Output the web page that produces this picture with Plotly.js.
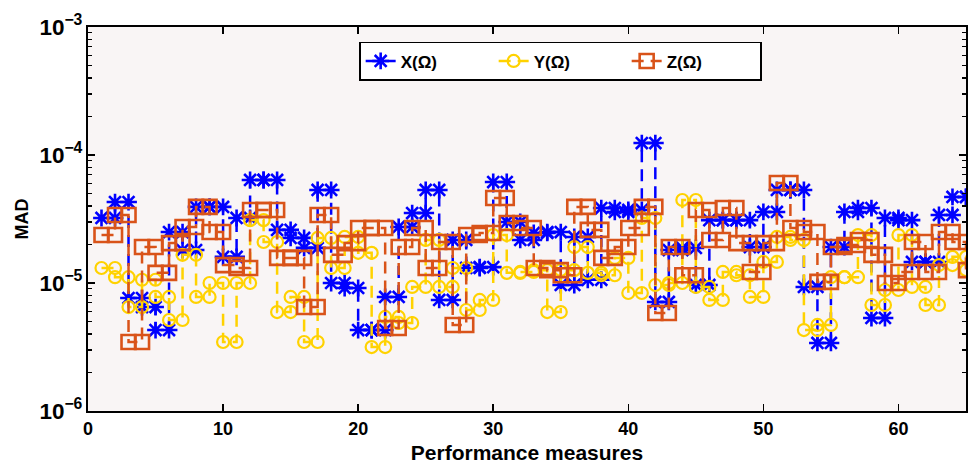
<!DOCTYPE html>
<html>
<head>
<meta charset="utf-8">
<script src="https://cdn.plot.ly/plotly-3.0.1.min.js"></script>
<style>
  html, body { margin: 0; padding: 0; background: #ffffff; }
  #chart { width: 968px; height: 468px; }
</style>
</head>
<body>
<div id="chart"></div>
<script>
// Performance measure index (1..65)
const measures = Array.from({length: 65}, (_, i) => i + 1);

// Mean absolute deviation per measure, X component
const madX = [
  3.22e-5, 4.29e-5, 7.63e-6, 6.49e-6, 4.29e-6, 2.50e-5, 1.81e-5, 3.93e-5, 3.93e-5, 1.60e-5,
  3.22e-5, 6.38e-5, 6.38e-5, 2.60e-5, 2.25e-5, 1.88e-5, 5.33e-5, 1.00e-5, 9.14e-6, 4.29e-6,
  4.29e-6, 7.78e-6, 2.74e-5, 3.52e-5, 5.33e-5, 7.37e-6, 2.17e-5, 1.31e-5, 1.33e-5, 6.15e-5,
  3.00e-5, 2.17e-5, 2.46e-5, 2.50e-5, 9.65e-6, 2.29e-5, 1.06e-5, 3.85e-5, 3.59e-5, 3.72e-5,
  1.24e-4, 7.11e-6, 1.81e-5, 1.88e-5, 9.65e-6, 3.10e-5, 3.10e-5, 3.10e-5, 1.91e-5, 3.59e-5,
  5.33e-5, 5.33e-5, 9.31e-6, 3.40e-6, 1.91e-5, 3.59e-5, 3.85e-5, 5.33e-6, 3.22e-5, 3.10e-5,
  1.46e-5, 1.46e-5, 3.40e-5, 4.70e-5, 4.70e-5
];

// Y component
const madY = [
  1.31e-5, 1.11e-5, 6.49e-6, 1.06e-5, 7.78e-6, 5.14e-6, 1.66e-5, 7.78e-6, 1.00e-5, 3.46e-6,
  1.00e-5, 3.10e-5, 2.09e-5, 5.93e-6, 7.78e-6, 3.46e-6, 2.25e-5, 1.31e-5, 2.29e-5, 1.72e-5,
  3.16e-6, 5.43e-6, 4.87e-6, 9.31e-6, 2.17e-5, 9.31e-6, 1.31e-5, 6.15e-6, 7.37e-6, 2.37e-5,
  1.20e-5, 1.22e-5, 1.26e-5, 5.93e-6, 1.26e-5, 1.91e-5, 1.20e-5, 1.15e-5, 1.57e-5, 8.35e-6,
  3.22e-5, 9.65e-6, 1.00e-5, 4.45e-5, 9.31e-6, 7.37e-6, 1.22e-5, 1.15e-5, 7.78e-6, 1.46e-5,
  2.29e-5, 2.17e-5, 4.29e-6, 4.70e-6, 1.11e-5, 1.11e-5, 2.37e-5, 6.73e-6, 8.82e-6, 2.37e-5,
  9.31e-6, 6.73e-6, 1.38e-5, 1.60e-5, 1.26e-5
];

// Z component
const madZ = [
  2.37e-5, 3.40e-5, 3.46e-6, 1.91e-5, 1.20e-5, 2.05e-5, 2.74e-5, 3.93e-5, 2.50e-5, 1.38e-5,
  1.31e-5, 3.72e-5, 3.72e-5, 1.57e-5, 1.57e-5, 6.49e-6, 3.40e-5, 1.66e-5, 2.05e-5, 2.69e-5,
  2.69e-5, 4.45e-6, 1.91e-5, 2.69e-5, 1.31e-5, 2.09e-5, 4.70e-6, 2.37e-5, 2.46e-5, 4.61e-5,
  2.94e-5, 2.69e-5, 1.31e-5, 1.26e-5, 1.15e-5, 3.93e-5, 2.60e-5, 1.57e-5, 1.91e-5, 2.69e-5,
  3.93e-5, 5.83e-6, 1.91e-5, 1.15e-5, 3.72e-5, 2.17e-5, 3.85e-5, 2.05e-5, 1.22e-5, 2.05e-5,
  6.04e-5, 2.69e-5, 2.50e-5, 1.02e-5, 1.91e-5, 1.98e-5, 2.17e-5, 1.66e-5, 1.00e-5, 1.22e-5,
  2.09e-5, 1.22e-5, 2.50e-5, 2.09e-5, 1.26e-5
];

const seriesNames = ['X(\u03A9)', 'Y(\u03A9)', 'Z(\u03A9)'];

// Staircase vertices: each value is held from x[i] to x[i+1]
function stairs(x, y) {
  const sx = [], sy = [];
  for (let i = 0; i < x.length; i++) {
    sx.push(x[i]); sy.push(y[i]);
    if (i < x.length - 1) { sx.push(x[i + 1]); sy.push(y[i]); }
  }
  return {x: sx, y: sy};
}

const styles = [
  {color: '#0000FF', symbol: 'asterisk-open', size: 14, mlw: 2.6},
  {color: '#FFD200', symbol: 'circle-open', size: 12, mlw: 2.2},
  {color: '#D95319', symbol: 'square-open', size: 14, mlw: 2.6}
];

const traces = [madX, madY, madZ].map((vals, k) => {
  const s = stairs(measures, vals);
  const st = styles[k];
  return {
    type: 'scatter',
    mode: 'lines+markers',
    name: seriesNames[k],
    x: s.x,
    y: s.y,
    line: {color: st.color, width: 2.5, dash: '12px,7px'},
    marker: {symbol: st.symbol, size: st.size, color: st.color,
             line: {color: st.color, width: st.mlw}}
  };
});

const boldFont = {family: '"Liberation Sans", Arial, sans-serif',
                  size: 18, color: '#000000', weight: 700};

const layout = {
  width: 968,
  height: 468,
  margin: {l: 88, r: 2, t: 27, b: 57},
  paper_bgcolor: '#FFFFFF',
  plot_bgcolor: '#F9F5F5',
  showlegend: true,
  legend: {
    orientation: 'h',
    x: 0.538, xanchor: 'center',
    y: 0.962, yanchor: 'top',
    bgcolor: '#FFFFFF',
    bordercolor: '#000000',
    borderwidth: 1.8,
    font: Object.assign({}, boldFont, {size: 17}),
    entrywidth: 88,
    entrywidthmode: 'pixels',
    tracegroupgap: 0
  },
  xaxis: {
    range: [0, 65],
    tick0: 0, dtick: 10,
    ticks: 'inside', ticklen: 7, tickwidth: 1.5, tickcolor: '#000000',
    showline: true, linecolor: '#000000', linewidth: 2, mirror: 'ticks',
    showgrid: false, zeroline: false,
    tickfont: boldFont,
    title: {text: 'Performance measures', font: Object.assign({}, boldFont, {size: 21}), standoff: 8}
  },
  yaxis: {
    type: 'log',
    range: [-6, -3],
    dtick: 1,
    exponentformat: 'power',
    ticks: 'inside', ticklen: 7, tickwidth: 1.5, tickcolor: '#000000',
    minor: {ticks: 'inside', ticklen: 4, tickwidth: 1.2, tickcolor: '#000000', dtick: 'D1', showgrid: false},
    showline: true, linecolor: '#000000', linewidth: 2, mirror: 'ticks',
    showgrid: false, zeroline: false,
    tickfont: boldFont,
    title: {text: 'MAD', font: Object.assign({}, boldFont, {size: 18}), standoff: 6}
  }
};

Plotly.newPlot('chart', traces, layout, {displayModeBar: false, staticPlot: true});
</script>
</body>
</html>
